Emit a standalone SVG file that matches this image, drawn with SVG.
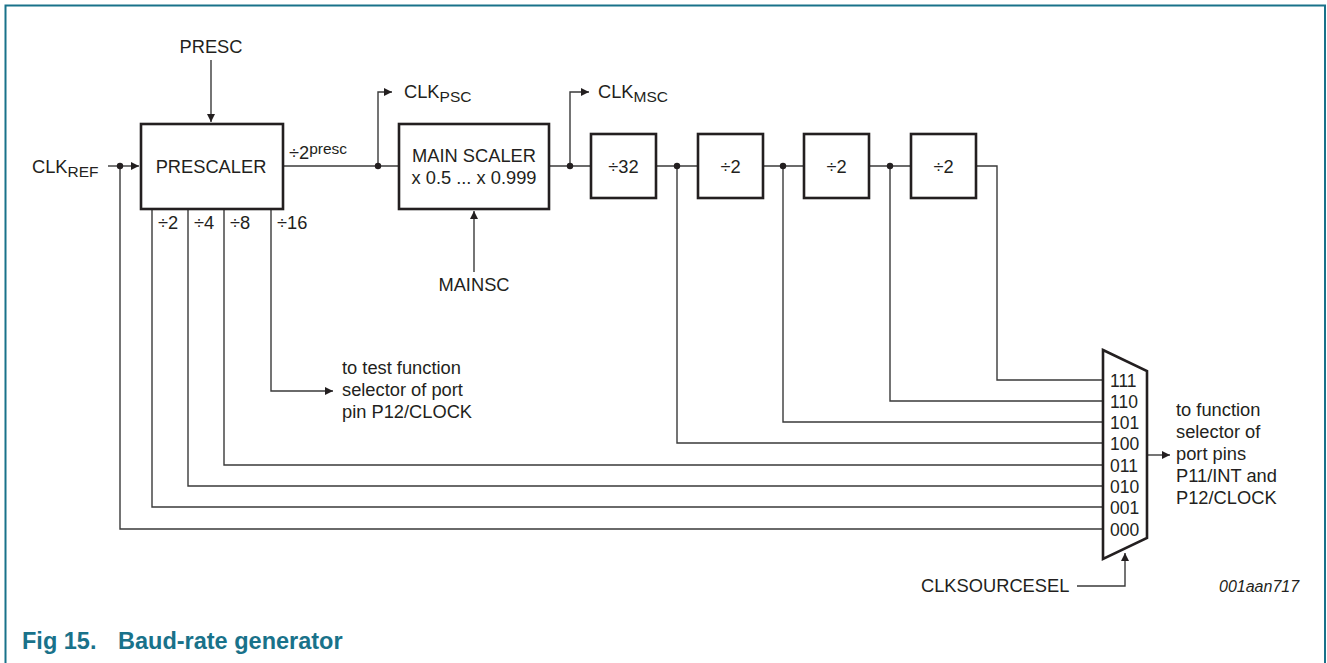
<svg xmlns="http://www.w3.org/2000/svg" width="1327" height="663" viewBox="0 0 1327 663">
<defs>
<style>
text{font-family:"Liberation Sans",Arial,sans-serif;fill:#231f20;font-size:18.3px}
.box{fill:#fff;stroke:#231f20;stroke-width:2.6}
.w{fill:none;stroke:#3a3a3a;stroke-width:1.4}
.sub{font-size:15.5px}
.mux{font-size:17.5px}
.code{font-style:italic;font-size:16px}
.cap{font-family:"Liberation Sans",Arial,sans-serif;font-weight:bold;font-size:23.5px;fill:#19728a}
</style>
<marker id="ah" viewBox="0 0 10 10" refX="10" refY="5" markerWidth="9" markerHeight="8" markerUnits="userSpaceOnUse" orient="auto">
<path d="M0,0 L10,5 L0,10 z" fill="#231f20"/>
</marker>
</defs>
<rect width="1327" height="663" fill="#fff"/>
<path d="M5.5,663 V5.5 H1325 V663" fill="none" stroke="#19728a" stroke-width="2"/>

<g id="connectors">
<path class="w" d="M108,166 H139" marker-end="url(#ah)"/>
<path class="w" d="M211,60 V122" marker-end="url(#ah)"/>
<path class="w" d="M283,166 H399"/>
<path class="w" d="M378,166 V92 H392" marker-end="url(#ah)"/>
<path class="w" d="M474,272 V211" marker-end="url(#ah)"/>
<path class="w" d="M549,166 H591"/>
<path class="w" d="M570,166 V92 H589" marker-end="url(#ah)"/>
<path class="w" d="M656,166 H698"/>
<path class="w" d="M763,166 H804"/>
<path class="w" d="M869,166 H911"/>
<path class="w" d="M976,166 H997 V380 H1103"/>
<path class="w" d="M890,166 V401 H1103"/>
<path class="w" d="M783,166 V422 H1103"/>
<path class="w" d="M677,166 V443 H1103"/>
<path class="w" d="M224,209 V465 H1103"/>
<path class="w" d="M188,209 V486 H1103"/>
<path class="w" d="M152,209 V507 H1103"/>
<path class="w" d="M120,166 V529 H1103"/>
<path class="w" d="M271,209 V391 H333" marker-end="url(#ah)"/>
<path class="w" d="M1147,455 H1170" marker-end="url(#ah)"/>
<path class="w" d="M1077,586 H1125 V553" marker-end="url(#ah)"/>
<circle cx="120" cy="166" r="3.2" fill="#231f20"/>
<circle cx="378" cy="166" r="3.2" fill="#231f20"/>
<circle cx="570" cy="166" r="3.2" fill="#231f20"/>
<circle cx="677" cy="166" r="3.2" fill="#231f20"/>
<circle cx="783" cy="166" r="3.2" fill="#231f20"/>
<circle cx="890" cy="166" r="3.2" fill="#231f20"/>
</g>

<g id="prescaler">
<rect class="box" x="141" y="124" width="142" height="85"/>
<text x="211" y="173" text-anchor="middle">PRESCALER</text>
<text x="158" y="229">÷2</text>
<text x="194" y="229">÷4</text>
<text x="230" y="229">÷8</text>
<text x="277" y="229">÷16</text>
</g>

<g id="mainscaler">
<rect class="box" x="399" y="124" width="150" height="85"/>
<text x="474" y="162" text-anchor="middle">MAIN SCALER</text>
<text x="474" y="184" text-anchor="middle">x 0.5 ... x 0.999</text>
</g>

<g id="div32">
<rect class="box" x="591" y="134" width="65" height="64"/>
<text x="623.5" y="173" text-anchor="middle">÷32</text>
</g>
<g id="div2a">
<rect class="box" x="698" y="134" width="65" height="64"/>
<text x="730.5" y="173" text-anchor="middle">÷2</text>
</g>
<g id="div2b">
<rect class="box" x="804" y="134" width="65" height="64"/>
<text x="836.5" y="173" text-anchor="middle">÷2</text>
</g>
<g id="div2c">
<rect class="box" x="911" y="134" width="65" height="64"/>
<text x="943.5" y="173" text-anchor="middle">÷2</text>
</g>

<g id="mux">
<path class="box" d="M1103,350 L1147,371 V538 L1103,559 Z"/>
<text class="mux" x="1110" y="387">111</text>
<text class="mux" x="1110" y="408">110</text>
<text class="mux" x="1110" y="429">101</text>
<text class="mux" x="1110" y="450">100</text>
<text class="mux" x="1110" y="472">011</text>
<text class="mux" x="1110" y="493">010</text>
<text class="mux" x="1110" y="514">001</text>
<text class="mux" x="1110" y="536">000</text>
</g>

<g id="labels">
<text x="211" y="53" text-anchor="middle">PRESC</text>
<text x="32" y="173">CLK<tspan class="sub" dy="4">REF</tspan></text>
<text x="289" y="159">÷2<tspan class="sub" dy="-5">presc</tspan></text>
<text x="404" y="98">CLK<tspan class="sub" dy="4">PSC</tspan></text>
<text x="598" y="98">CLK<tspan class="sub" dy="4">MSC</tspan></text>
<text x="474" y="291" text-anchor="middle">MAINSC</text>
<text x="342" y="374">to test function</text>
<text x="342" y="396">selector of port</text>
<text x="342" y="418">pin P12/CLOCK</text>
<text x="1176" y="416">to function</text>
<text x="1176" y="438">selector of</text>
<text x="1176" y="460">port pins</text>
<text x="1176" y="482">P11/INT and</text>
<text x="1176" y="504">P12/CLOCK</text>
<text x="921" y="592">CLKSOURCESEL</text>
<text class="code" x="1219" y="592">001aan717</text>
</g>

<text class="cap" x="22" y="649">Fig 15.</text>
<text class="cap" x="118" y="649">Baud-rate generator</text>
</svg>
